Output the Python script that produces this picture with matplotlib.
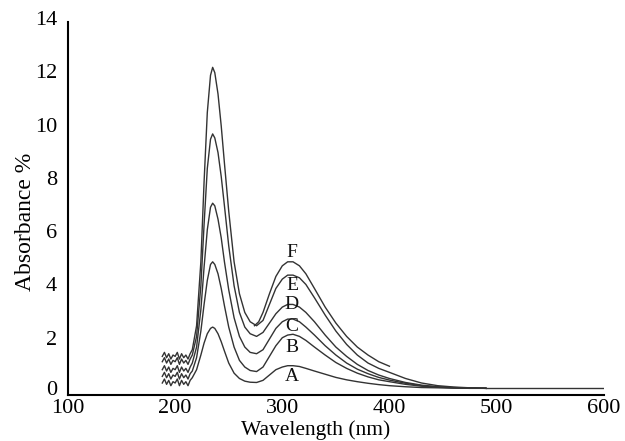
import matplotlib
matplotlib.use("Agg")
import matplotlib.pyplot as plt
import matplotlib.transforms as mtransforms

# Shared wavelength samples (nm)
wl = [188, 190, 192, 194, 196, 198, 200, 202, 204, 206, 208, 210, 212, 214, 216,
      220, 224, 227, 230, 233, 235, 237, 240, 243, 246, 250, 255, 260, 265, 270, 276,
      282, 288, 294, 300, 305, 310, 316, 322, 330, 340, 350, 360, 370, 380,
      390, 400, 415, 430, 445, 460, 475, 490]

curve_E = [1.45, 1.6, 1.4, 1.55, 1.35, 1.5, 1.45, 1.6, 1.35, 1.55, 1.4, 1.5, 1.35, 1.55, 1.7,
           2.6, 5.0, 8.0, 10.6, 12.0, 12.3, 12.1, 11.3, 10.1, 8.7, 6.9, 5.0, 3.8, 3.1, 2.75, 2.6,
           2.8, 3.4, 4.0, 4.35, 4.5, 4.5, 4.4, 4.15, 3.65, 3.0, 2.4, 1.9, 1.5, 1.2,
           1.0, 0.85, 0.62, 0.45, 0.35, 0.3, 0.27, 0.26]
curve_D = [1.25, 1.4, 1.2, 1.35, 1.15, 1.3, 1.25, 1.4, 1.15, 1.35, 1.2, 1.3, 1.15, 1.35, 1.5,
           2.2, 4.1, 6.4, 8.5, 9.6, 9.8, 9.65, 9.1, 8.2, 7.1, 5.6, 4.1, 3.1, 2.55, 2.3, 2.2,
           2.35, 2.7, 3.05, 3.3, 3.4, 3.4, 3.3, 3.1, 2.75, 2.25, 1.8, 1.45, 1.15, 0.92,
           0.75, 0.62, 0.47, 0.37, 0.31, 0.28, 0.26, 0.25]
curve_C = [0.95, 1.1, 0.9, 1.05, 0.85, 1.0, 0.95, 1.1, 0.85, 1.05, 0.9, 1.0, 0.85, 1.05, 1.2,
           1.8, 3.2, 4.8, 6.2, 7.05, 7.2, 7.1, 6.6, 5.9, 5.0, 3.95, 2.9, 2.2, 1.8, 1.6, 1.55,
           1.7, 2.1, 2.5, 2.75, 2.85, 2.85, 2.75, 2.55, 2.25, 1.85, 1.5, 1.2, 0.97, 0.8,
           0.66, 0.56, 0.44, 0.35, 0.3, 0.27, 0.26, 0.25]
curve_B = [0.7, 0.85, 0.65, 0.8, 0.6, 0.75, 0.7, 0.85, 0.6, 0.8, 0.65, 0.75, 0.6, 0.8, 0.9,
           1.4, 2.4, 3.4, 4.3, 4.9, 5.0, 4.9, 4.55, 4.0, 3.35, 2.55, 1.8, 1.3, 1.05, 0.92, 0.88,
           1.05, 1.45, 1.85, 2.15, 2.25, 2.28, 2.2, 2.05, 1.8, 1.5, 1.22, 1.0, 0.82, 0.68,
           0.57, 0.5, 0.4, 0.33, 0.29, 0.27, 0.26, 0.25]
curve_A = [0.45, 0.6, 0.4, 0.55, 0.35, 0.5, 0.45, 0.6, 0.35, 0.55, 0.4, 0.5, 0.35, 0.55, 0.65,
           0.95, 1.5, 1.95, 2.3, 2.5, 2.55, 2.5, 2.3, 2.0, 1.65, 1.2, 0.82, 0.62, 0.52, 0.48, 0.47,
           0.55, 0.75, 0.95, 1.05, 1.1, 1.1, 1.07, 1.0, 0.9, 0.78, 0.66, 0.57, 0.5, 0.44,
           0.39, 0.35, 0.31, 0.28, 0.27, 0.26, 0.25, 0.25]

# Long tail of one scan out to 600 nm
tail_wl = [490, 550, 600]
tail_val = [0.25, 0.25, 0.25]

# Partial scan F
wl_F = [274, 278, 282, 288, 294, 300, 305, 310, 316, 322, 330, 340, 350, 360, 370, 380, 390, 400]
curve_F = [2.6, 2.75, 3.1, 3.8, 4.45, 4.85, 5.0, 5.0, 4.85, 4.55, 4.0, 3.3, 2.7, 2.2, 1.8, 1.5, 1.25, 1.08]

labels = ["F", "E", "D", "C", "B", "A"]
label_y = [5.34, 4.1, 3.38, 2.56, 1.8, 0.68]
label_x = 309

x_ticks = [100, 200, 300, 400, 500, 600]
y_ticks = [0, 2, 4, 6, 8, 10, 12, 14]

plt.rcParams['font.family'] = ['Liberation Serif', 'DejaVu Serif']

fig = plt.figure(figsize=(6.25, 4.41), dpi=100)
ax = fig.add_axes([0.1088, 0.1043, 0.8572, 0.8457])

lc = '#333333'
lw = 1.0
for c in [curve_E, curve_D, curve_C, curve_B, curve_A]:
    ax.plot(wl, c, color=lc, lw=lw)
ax.plot(tail_wl, tail_val, color=lc, lw=lw)
ax.plot(wl_F, curve_F, color=lc, lw=lw)

for t, y in zip(labels, label_y):
    ax.text(label_x, y, t, fontsize=14, ha='center', va='center', color='#111111')

ax.set_xlim(100, 600)
ax.set_ylim(0, 14)
ax.set_xticks(x_ticks)
ax.set_yticks(y_ticks)
ax.tick_params(length=0, labelsize=16)
ax.tick_params(axis='x', pad=3)
ax.tick_params(axis='y', pad=8)
for s in ['top', 'right']:
    ax.spines[s].set_visible(False)
for s in ['left', 'bottom']:
    ax.spines[s].set_linewidth(1.5)

off = mtransforms.ScaledTranslation(0, 4 / 100, fig.dpi_scale_trans)
off0 = mtransforms.ScaledTranslation(0, 7 / 100, fig.dpi_scale_trans)
for i, lab in enumerate(ax.get_yticklabels()):
    lab.set_transform(lab.get_transform() + (off0 if i == 0 else off))

ax.set_xlabel('Wavelength (nm)', fontsize=15.5)
ax.xaxis.set_label_coords(0.463, -0.1195, transform=ax.transAxes)
ax.xaxis.label.set_va('bottom')
ax.set_ylabel('Absorbance %', fontsize=17)
ax.yaxis.set_label_coords(-0.080, 0.465, transform=ax.transAxes)
ax.yaxis.label.set_va('center')

fig.savefig('out.png', dpi=100)
